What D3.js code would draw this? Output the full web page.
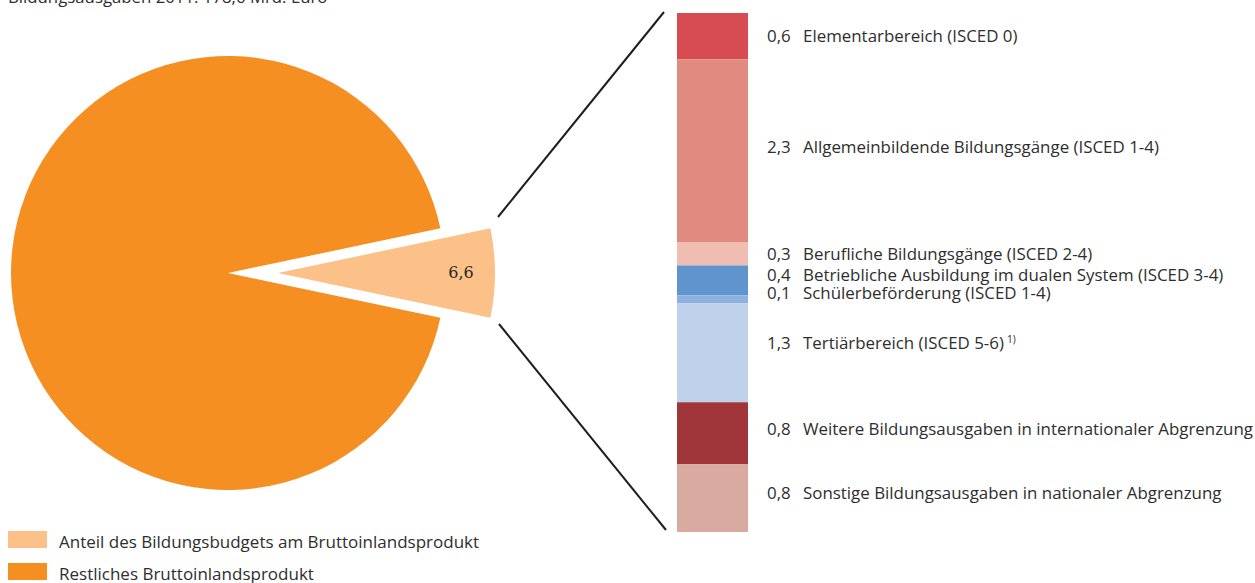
<!DOCTYPE html>
<html>
<head>
<meta charset="utf-8">
<script src="https://cdn.jsdelivr.net/npm/d3@7"></script>
<style>
  body { margin: 0; background: #fff; }
  svg text { font-family: "Open Sans", "Noto Sans", sans-serif; fill: #2e2e2e; }
</style>
</head>
<body>
<svg id="chart" width="1255" height="583"></svg>
<script>
// pie: share of education budget in GDP (percent)
var pieKeys = ['Anteil des Bildungsbudgets am Bruttoinlandsprodukt', 'Restliches Bruttoinlandsprodukt'];
var pieValues = [6.6, 93.4];
var pieColors = ['#fcc189', '#f58f22'];
var pieLabel = '6,6';

// stacked bar: breakdown of the 6,6 percent
var parts = [
  'Elementarbereich (ISCED 0)',
  'Allgemeinbildende Bildungsgänge (ISCED 1-4)',
  'Berufliche Bildungsgänge (ISCED 2-4)',
  'Betriebliche Ausbildung im dualen System (ISCED 3-4)',
  'Schülerbeförderung (ISCED 1-4)',
  'Tertiärbereich (ISCED 5-6)',
  'Weitere Bildungsausgaben in internationaler Abgrenzung',
  'Sonstige Bildungsausgaben in nationaler Abgrenzung'
];
var partValues = [0.59, 2.33, 0.29, 0.38, 0.10, 1.26, 0.79, 0.86];
var partLabels = ['0,6', '2,3', '0,3', '0,4', '0,1', '1,3', '0,8', '0,8'];
var partColors = ['#d74c52', '#e08a80', '#f0bdb3', '#5f94cd', '#8eb2e0', '#c0d1eb', '#a0353a', '#d9aa9f'];

var title = 'Bildungsausgaben 2011: 178,6 Mrd. Euro';

var svg = d3.select('#chart');

svg.append('text')
    .attr('x', 8).attr('y', 2.5)
    .style('font-size', '16.8px')
    .text(title);

// ---- pie
var cx = 228, cy = 273, r = 217, explode = 50;
var half = pieValues[0] / d3.sum(pieValues) * Math.PI;

var pie = d3.pie().sort(null)
    .startAngle(Math.PI / 2 - half)
    .endAngle(Math.PI / 2 - half + 2 * Math.PI);
var arc = d3.arc().innerRadius(0).outerRadius(r);

var pieG = svg.append('g').attr('transform', 'translate(' + cx + ',' + cy + ')');
pieG.selectAll('path')
    .data(pie(pieValues))
  .enter().append('path')
    .attr('d', arc)
    .attr('fill', function (d, i) { return pieColors[i]; })
    .attr('transform', function (d, i) {
      if (i !== 0) return null;
      var mid = (d.startAngle + d.endAngle) / 2;
      return 'translate(' + (Math.sin(mid) * explode) + ',' + (-Math.cos(mid) * explode) + ')';
    });

pieG.append('text')
    .attr('x', 233).attr('y', 4.5)
    .attr('text-anchor', 'middle')
    .style('font-family', '"DejaVu Serif", serif')
    .style('font-size', '16px')
    .style('fill', '#262626')
    .text(pieLabel);

// ---- stacked bar
var barX = 677, barW = 71;
var y = d3.scaleLinear().domain([0, d3.sum(partValues)]).range([13, 532]);
var cum = 0;
var stack = partValues.map(function (v) {
  var s = { y0: cum, y1: cum + v };
  cum += v;
  return s;
});

svg.selectAll('rect.part')
    .data(stack)
  .enter().append('rect')
    .attr('class', 'part')
    .attr('x', barX).attr('width', barW)
    .attr('y', function (d) { return y(d.y0); })
    .attr('height', function (d) { return y(d.y1) - y(d.y0); })
    .attr('fill', function (d, i) { return partColors[i]; });

// connector lines
svg.append('line').attr('x1', 498).attr('y1', 217).attr('x2', 664).attr('y2', 12)
    .attr('stroke', '#1e1e1e').attr('stroke-width', 2);
svg.append('line').attr('x1', 499).attr('y1', 324).attr('x2', 666).attr('y2', 530)
    .attr('stroke', '#1e1e1e').attr('stroke-width', 2);

// labels, nudged apart where segments are thin
var nudge = [0, -3.5, 0.5, -4.5, -6, -9.5, -4, -5];
var labels = svg.selectAll('g.lab')
    .data(stack)
  .enter().append('g')
    .attr('class', 'lab')
    .attr('transform', function (d, i) {
      return 'translate(0,' + ((y(d.y0) + y(d.y1)) / 2 + 5.5 + nudge[i]) + ')';
    });
labels.append('text')
    .attr('x', 767)
    .style('font-size', '16.9px')
    .text(function (d, i) { return partLabels[i]; });
var lt = labels.append('text')
    .attr('x', 803)
    .style('font-size', '16.9px')
    .text(function (d, i) { return parts[i]; });
lt.filter(function (d, i) { return i === 5; })
  .append('tspan')
    .attr('dx', 3).attr('dy', -6)
    .style('font-size', '10px')
    .text('1)');

// legend
var legend = svg.selectAll('g.leg')
    .data(pieKeys)
  .enter().append('g')
    .attr('class', 'leg')
    .attr('transform', function (d, i) { return 'translate(8,' + (531 + i * 32) + ')'; });
legend.append('rect')
    .attr('width', 39).attr('height', 17)
    .attr('fill', function (d, i) { return pieColors[i]; });
legend.append('text')
    .attr('x', 51).attr('y', 16.5)
    .style('font-size', '17px')
    .text(function (d) { return d; });
</script>
</body>
</html>
